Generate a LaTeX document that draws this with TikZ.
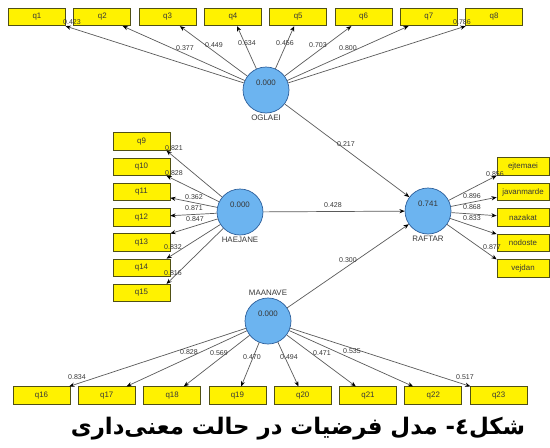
\documentclass[tikz,border=0pt]{standalone}
\usepackage{fontspec}
\setmainfont{Liberation Sans}
\newfontfamily\arabicfont[Script=Arabic]{DejaVu Sans}
\TeXXeTstate=1
\usetikzlibrary{arrows.meta}
\definecolor{lvfill}{RGB}{108,180,240}
\definecolor{lvdraw}{RGB}{45,95,155}
\definecolor{mvdraw}{RGB}{80,80,20}
\definecolor{pathgray}{RGB}{90,90,90}
\definecolor{txtgray}{RGB}{55,55,55}
\tikzstyle{latent} = [circle, minimum size=0.92cm, inner sep=0pt, draw=lvdraw, fill=lvfill, line width=0.4pt]
\tikzstyle{indicator} = [rectangle, minimum width=1.14cm, minimum height=0.35cm, inner sep=0pt, draw=mvdraw, fill=yellow, text=txtgray, font=\fontsize{4.5}{5}\selectfont, line width=0.4pt]
\tikzstyle{arrow} = [draw=pathgray, line width=0.4pt, -{Stealth[length=3pt,width=2.4pt,black]}]
\tikzstyle{coef} = [text=txtgray, font=\fontsize{4}{5}\selectfont, inner sep=0pt]
\tikzstyle{lvname} = [text=txtgray, font=\fontsize{4.5}{5}\selectfont, inner sep=1pt]

\begin{document}
\begin{tikzpicture}[x=0.02cm, y=-0.02cm]
\useasboundingbox (0,0) rectangle (550,447);

% Latent variables
\node (OGLAEI) [latent, label={[lvname]below:OGLAEI}, label={[coef,font=\fontsize{4.5}{5}\selectfont,yshift=4pt]center:0.000}] at (266,90) {};
\node (HAEJANE) [latent, label={[lvname]below:HAEJANE}, label={[coef,font=\fontsize{4.5}{5}\selectfont,yshift=4pt]center:0.000}] at (240,212) {};
\node (RAFTAR) [latent, label={[lvname]below:RAFTAR}, label={[coef,font=\fontsize{4.5}{5}\selectfont,yshift=4pt]center:0.741}] at (428,211) {};
\node (MAANAVE) [latent, label={[lvname]above:MAANAVE}, label={[coef,font=\fontsize{4.5}{5}\selectfont,yshift=4pt]center:0.000}] at (268,321) {};

% Indicators
\foreach \i in {1,...,8}
  \node (q\i) [indicator] at ({37+65.3*(\i-1)},17) {q\i};
\foreach \i in {9,...,15}
  \node (q\i) [indicator] at (141.5,{141.5+25.25*(\i-9)}) {q\i};
\foreach \i in {16,...,23}
  \node (q\i) [indicator] at ({41.5+65.3*(\i-16)},395.5) {q\i};
\foreach \n [count=\k from 0] in {ejtemaei,javanmarde,nazakat,nodoste,vejdan}
  \node (\n) [indicator, minimum width=1.04cm] at (523,{166.5+25.5*\k}) {\n};

% Outer loadings
\foreach \i in {1,...,8}
  \draw [arrow] (OGLAEI) -- (q\i);
\foreach \t in {q9.-20,q10.-20,q11,q12,q13,q14.20,q15.20}
  \draw [arrow] (HAEJANE) -- (\t);
\foreach \i in {16,...,23}
  \draw [arrow] (MAANAVE) -- (q\i);
\foreach \t in {ejtemaei.south west,javanmarde,nazakat,nodoste,vejdan.north west}
  \draw [arrow] (RAFTAR) -- (\t);

% Path coefficients
\draw [arrow] (OGLAEI) -- (RAFTAR);
\draw [arrow] (HAEJANE) -- (RAFTAR);
\draw [arrow] (MAANAVE) -- (RAFTAR);

% Values
\foreach \x/\y/\v [count=\n] in {72/22/0.423, 185/48/0.377, 214/45/0.449, 247/43/0.634,
    285/43/0.456, 318/45/0.703, 348/48/0.800, 462/22/0.786,
    174/148/0.821, 174/173/0.828, 194/197/0.362, 194/208/0.871, 195/219/0.847,
    173/247/0.832, 173/273/0.816,
    77/377/0.834, 189/352/0.828, 219/353/0.569, 252/357/0.470,
    289/357/0.494, 322/353/0.471, 352/351/0.535, 465/377/0.517,
    495/174/0.856, 472/196/0.896, 472/207/0.868, 472/218/0.833, 492/247/0.877,
    346/144/0.217, 333/205/0.428, 348/260/0.300}
  \node (c\n) [coef] at (\x,\y) {\v};

% Caption
\node (caption) at (298,429) {\arabicfont\bfseries\fontsize{13}{15}\selectfont\beginR شکل٤- مدل فرضیات در حالت معنی‌داری\endR};

\end{tikzpicture}
\end{document}
